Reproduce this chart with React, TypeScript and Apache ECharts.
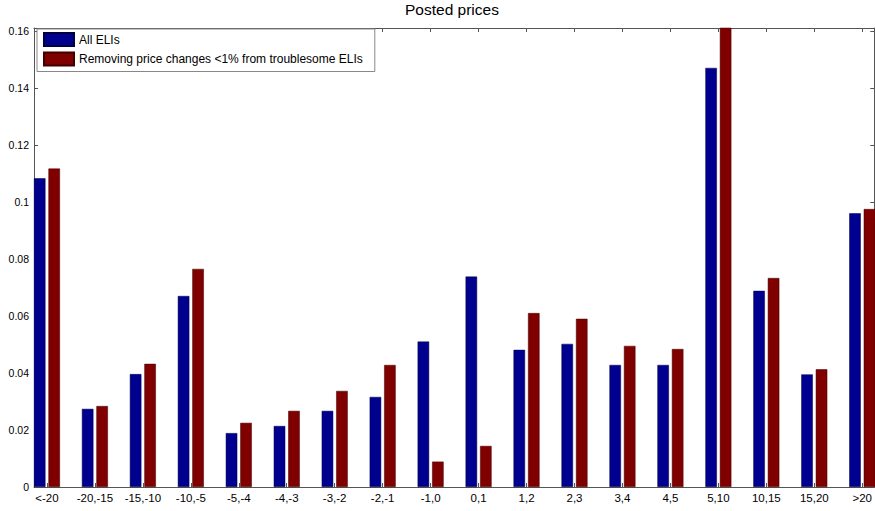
import React, { useEffect, useRef } from "react";
import * as echarts from "echarts";

const categories = [
  "<-20", "-20,-15", "-15,-10", "-10,-5", "-5,-4", "-4,-3", "-3,-2", "-2,-1", "-1,0",
  "0,1", "1,2", "2,3", "3,4", "4,5", "5,10", "10,15", "15,20", ">20",
];
const allELIs = [
  0.1083, 0.0274, 0.0396, 0.0670, 0.0189, 0.0214, 0.0267, 0.0316, 0.0510,
  0.0738, 0.0481, 0.0502, 0.0428, 0.0428, 0.1470, 0.0688, 0.0395, 0.0960,
];
const removing = [
  0.1117, 0.0284, 0.0432, 0.0765, 0.0225, 0.0267, 0.0337, 0.0428, 0.0089,
  0.0144, 0.0610, 0.0590, 0.0495, 0.0484, 0.1700, 0.0733, 0.0413, 0.0975,
];
const yTicks = [0, 0.02, 0.04, 0.06, 0.08, 0.1, 0.12, 0.14, 0.16];
const seriesNames = ["All ELIs", "Removing price changes <1% from troublesome ELIs"];

const FONT = "Liberation Sans, Arial, Helvetica, sans-serif";

export default function App() {
  const ref = useRef<HTMLDivElement>(null);
  useEffect(() => {
    if (!ref.current) return;
    const chart = echarts.init(ref.current, undefined, { renderer: "svg" });
    const positions = categories.map((_, i) => i + 1);
    const axisCommon = {
      type: "value" as const,
      min: 0.73,
      max: 18.25,
      splitLine: { show: false },
      axisLine: { show: true, onZero: false, lineStyle: { color: "#555", width: 1 } },
      axisTick: { show: true, inside: true, length: 4, customValues: positions, lineStyle: { color: "#555" } },
    };
    const yCommon = {
      type: "value" as const,
      min: 0,
      max: 0.161,
      splitLine: { show: false },
      axisLine: { show: true, lineStyle: { color: "#555", width: 1 } },
      axisTick: { show: true, inside: true, length: 4, customValues: yTicks, lineStyle: { color: "#555" } },
    };
    chart.setOption({
      animation: false,
      backgroundColor: "#fff",
      title: {
        text: "Posted prices",
        left: 405,
        top: 1,
        padding: 0,
        textStyle: { fontFamily: FONT, fontSize: 15.5, fontWeight: "normal", color: "#000" },
      },
      legend: {
        orient: "vertical",
        left: 37,
        top: 29,
        itemWidth: 30,
        itemHeight: 13,
        itemGap: 4.5,
        padding: [3, 12, 5, 6],
        borderColor: "#888",
        borderWidth: 1,
        backgroundColor: "#fff",
        icon: "rect",
        data: seriesNames,
        textStyle: { fontFamily: FONT, fontSize: 12, color: "#000", lineHeight: 13 },
      },
      grid: { left: 34, right: 0, top: 28, bottom: 24, containLabel: false },
      xAxis: [
        {
          ...axisCommon,
          position: "bottom",
          axisLabel: {
            customValues: positions,
            fontFamily: FONT,
            fontSize: 11.5,
            color: "#000",
            margin: 5,
            formatter: (v: number) => categories[Math.round(v) - 1] ?? "",
          },
        },
        {
          ...axisCommon,
          position: "top",
          axisLabel: { show: false },
        },
      ],
      yAxis: [
        {
          ...yCommon,
          position: "left",
          axisLabel: {
            customValues: yTicks,
            fontFamily: FONT,
            fontSize: 10.5,
            color: "#000",
            margin: 5,
            formatter: (v: number) => String(Number(v.toFixed(2))),
          },
        },
        {
          ...yCommon,
          position: "right",
          axisLabel: { show: false },
        },
      ],
      series: [
        {
          name: seriesNames[0],
          type: "bar",
          xAxisIndex: 0,
          yAxisIndex: 0,
          barWidth: 11.5,
          barGap: "26%",
          clip: true,
          itemStyle: { color: "#00008f", borderColor: "#000040", borderWidth: 0.5 },
          data: allELIs.map((v, i) => [positions[i], v]),
        },
        {
          name: seriesNames[1],
          type: "bar",
          xAxisIndex: 0,
          yAxisIndex: 0,
          barWidth: 11.5,
          barGap: "26%",
          clip: true,
          itemStyle: { color: "#800000", borderColor: "#400000", borderWidth: 0.5 },
          data: removing.map((v, i) => [positions[i], v]),
        },
      ],
    });
    return () => chart.dispose();
  }, []);
  return (
    <div
      ref={ref}
      style={{ position: "fixed", left: 0, top: 0, width: 875, height: 511, background: "#fff" }}
    />
  );
}
